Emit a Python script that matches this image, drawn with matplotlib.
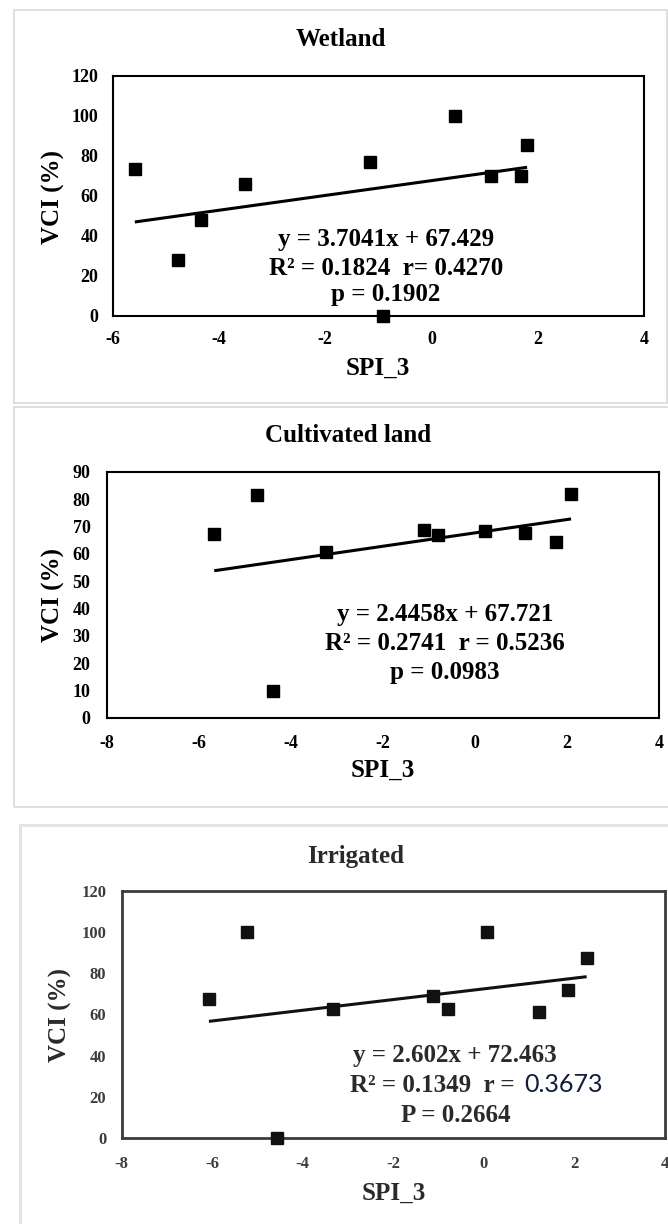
import matplotlib
matplotlib.use("Agg")
import matplotlib.pyplot as plt
from matplotlib.patches import Rectangle

plt.rcParams["axes.unicode_minus"] = False

W, H = 668, 1224

# --- data ---
wet_x = [-5.58, -4.76, -4.34, -3.51, -1.15, -0.92, 0.44, 1.12, 1.68, 1.80]
wet_y = [73.1, 27.9, 47.7, 65.6, 77.0, 0.0, 100.0, 69.8, 69.8, 85.4]
wet_fit = (3.7041, 67.429)
wet_lines = ["y = 3.7041x + 67.429", "R² = 0.1824  r= 0.4270", "p = 0.1902"]

cul_x = [-5.66, -4.74, -4.38, -3.24, -1.10, -0.79, 0.21, 1.09, 1.77, 2.09]
cul_y = [67.2, 81.7, 9.8, 60.7, 68.7, 67.1, 68.3, 67.8, 64.4, 82.1]
cul_fit = (2.4458, 67.721)
cul_lines = ["y = 2.4458x + 67.721", "R² = 0.2741  r = 0.5236", "p = 0.0983"]

irr_x = [-6.07, -5.23, -4.57, -3.32, -1.13, -0.79, 0.07, 1.22, 1.85, 2.27]
irr_y = [67.4, 100.0, 0.0, 62.5, 69.1, 62.5, 100.0, 61.4, 72.0, 87.5]
irr_fit = (2.602, 72.463)
irr_lines = ["y = 2.602x + 72.463", "R² = 0.1349  r =", "0.3673", "P = 0.2664"]

SERIF = ["Liberation Serif", "DejaVu Serif"]


def fx(x):
    return x / W


def fy(y):
    return 1 - y / H


def make_axes(fig, left, right, top, bottom):
    return fig.add_axes([fx(left), fy(bottom), (right - left) / W, (bottom - top) / H])


def style_axes(ax, xlim, xticks, ylim, yticks, color, lw, xpad, ypad, tsize):
    ax.set_xlim(*xlim)
    ax.set_ylim(*ylim)
    ax.set_xticks(xticks)
    ax.set_yticks(yticks)
    ax.tick_params(length=0, labelsize=tsize, labelcolor=color)
    ax.tick_params(axis="x", pad=xpad)
    ax.tick_params(axis="y", pad=ypad)
    for lab in ax.get_xticklabels() + ax.get_yticklabels():
        lab.set_fontfamily(SERIF)
        lab.set_fontweight("bold")
    for sp in ax.spines.values():
        sp.set_linewidth(lw)
        sp.set_color(color)


def scatter_fit(ax, xs, ys, fit, color, ms):
    ax.plot(xs, ys, linestyle="none", marker="s", ms=ms, color=color, clip_on=False, zorder=3)
    x0, x1 = min(xs), max(xs)
    a, b = fit
    ax.plot([x0, x1], [a * x0 + b, a * x1 + b], color=color, lw=2.2, solid_capstyle="butt", zorder=2)


def ftext(fig, x, y, s, size=18, color="black", **kw):
    kw.setdefault("ha", "center")
    kw.setdefault("va", "baseline")
    fig.text(fx(x), fy(y), s, fontsize=size, color=color, family=kw.pop("family", SERIF),
             fontweight=kw.pop("weight", "bold"), **kw)


fig = plt.figure(figsize=(W / 100, H / 100), dpi=100)
fig.patch.set_facecolor("white")

# panel frames
fig.add_artist(Rectangle((fx(13.5), fy(403)), (667 - 13.5) / W, (403 - 10.5) / H,
                         transform=fig.transFigure, fill=False, ec="#d9d9d9", lw=1.2))
fig.add_artist(Rectangle((fx(13.5), fy(807)), (680 - 13.5) / W, (807 - 407) / H,
                         transform=fig.transFigure, fill=False, ec="#d9d9d9", lw=1.2))
fig.add_artist(Rectangle((fx(19.5), fy(1240)), (680 - 19.5) / W, (1240 - 825) / H,
                         transform=fig.transFigure, fill=False, ec="#e3e3e3", lw=2.2))

# --- Wetland ---
ax1 = make_axes(fig, 112.5, 644, 75.5, 315.5)
style_axes(ax1, (-6, 4), range(-6, 5, 2), (0, 120), range(0, 121, 20), "black", 1.5, 11, 10, 13)
scatter_fit(ax1, wet_x, wet_y, wet_fit, "black", 8.6)
ftext(fig, 341, 39, "Wetland", va="center")
ftext(fig, 378, 368, "SPI_3", va="center")
ftext(fig, 53, 197, "VCI (%)", va="center", rotation=90)
for s, yb in zip(wet_lines, [246.5, 275, 301.5]):
    ftext(fig, 386, yb, s)

# --- Cultivated land ---
ax2 = make_axes(fig, 106.5, 659, 472, 718)
style_axes(ax2, (-8, 4), range(-8, 5, 2), (0, 90), range(0, 91, 10), "black", 1.5, 12, 11.5, 13)
scatter_fit(ax2, cul_x, cul_y, cul_fit, "black", 8.6)
ftext(fig, 348, 435, "Cultivated land", va="center")
ftext(fig, 383, 770, "SPI_3", va="center")
ftext(fig, 53, 595, "VCI (%)", va="center", rotation=90)
for s, yb in zip(cul_lines, [620.5, 650.5, 679]):
    ftext(fig, 445, yb, s)

# --- Irrigated ---
gray = "#2a2a2a"
ax3 = make_axes(fig, 121.5, 665, 891, 1138)
style_axes(ax3, (-8, 4), range(-8, 5, 2), (0, 120), range(0, 121, 20), "#3c3c3c", 2.0, 13, 11, 12)
scatter_fit(ax3, irr_x, irr_y, irr_fit, "#111111", 9)
ftext(fig, 356, 856, "Irrigated", color=gray, va="center")
ftext(fig, 394, 1193, "SPI_3", color=gray, va="center")
ftext(fig, 60, 1015, "VCI (%)", color=gray, va="center", rotation=90)
ftext(fig, 455, 1062, irr_lines[0], color=gray)
ftext(fig, 515, 1092.5, irr_lines[1], color=gray, ha="right")
ftext(fig, 524, 1092.5, irr_lines[2], size=18, color="#0f1d3a", ha="left",
      family=["Lato", "DejaVu Sans"], weight="normal")
ftext(fig, 456, 1121.5, irr_lines[3], color=gray)

fig.savefig("out.png", dpi=100, facecolor="white")
